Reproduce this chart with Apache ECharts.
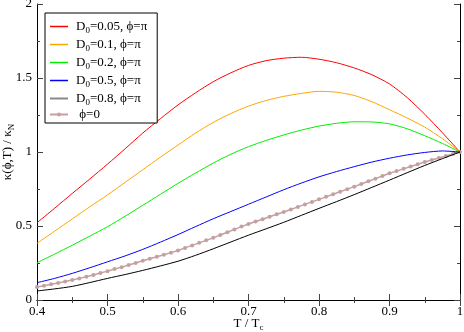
<!DOCTYPE html>
<html><head><meta charset="utf-8">
<script src="https://cdn.jsdelivr.net/npm/echarts@6/dist/echarts.min.js"></script>
<style>html,body{margin:0;padding:0;background:#fff}#c{width:464px;height:332px}</style>
</head><body><div id="c"></div>
<script>
var T = [0.400,0.425,0.450,0.475,0.500,0.525,0.550,0.575,0.600,0.625,0.650,0.675,0.700,0.725,0.750,0.775,0.800,0.825,0.850,0.875,0.900,0.925,0.950,0.975,1.000];
var red    = [0.522,0.620,0.720,0.818,0.918,1.022,1.128,1.225,1.318,1.400,1.475,1.535,1.585,1.617,1.634,1.640,1.627,1.603,1.568,1.522,1.460,1.368,1.255,1.130,1.000];
var orange = [0.383,0.465,0.548,0.630,0.710,0.795,0.880,0.965,1.047,1.128,1.200,1.260,1.310,1.348,1.376,1.396,1.410,1.404,1.382,1.340,1.286,1.230,1.168,1.090,1.000];
var green  = [0.252,0.310,0.370,0.432,0.495,0.566,0.640,0.714,0.788,0.858,0.925,0.985,1.036,1.078,1.115,1.148,1.175,1.194,1.204,1.203,1.190,1.157,1.110,1.058,1.000];
var blue   = [0.117,0.146,0.180,0.218,0.258,0.298,0.342,0.391,0.442,0.496,0.549,0.598,0.647,0.696,0.745,0.790,0.832,0.868,0.901,0.932,0.958,0.980,0.997,1.007,1.000];
var black  = [0.061,0.075,0.092,0.118,0.146,0.172,0.200,0.230,0.262,0.302,0.346,0.392,0.438,0.481,0.525,0.572,0.619,0.665,0.712,0.761,0.810,0.860,0.909,0.955,1.000];
var Tphi0 = [0.40,0.41,0.42,0.43,0.44,0.45,0.46,0.47,0.48,0.49,0.50,0.51,0.52,0.53,0.54,0.55,0.56,0.57,0.58,0.59,0.60,0.61,0.62,0.63,0.64,0.65,0.66,0.67,0.68,0.69,0.70,0.71,0.72,0.73,0.74,0.75,0.76,0.77,0.78,0.79,0.80,0.81,0.82,0.83,0.84,0.85,0.86,0.87,0.88,0.89,0.90,0.91,0.92,0.93,0.94,0.95,0.96,0.97,0.98,0.99,1.00];
var phi0 = [0.088,0.097,0.106,0.115,0.125,0.135,0.146,0.157,0.169,0.182,0.195,0.209,0.222,0.236,0.250,0.265,0.279,0.292,0.306,0.320,0.335,0.352,0.369,0.386,0.403,0.420,0.439,0.458,0.477,0.496,0.514,0.530,0.546,0.562,0.579,0.595,0.612,0.629,0.646,0.663,0.680,0.697,0.714,0.731,0.749,0.766,0.784,0.802,0.820,0.838,0.856,0.871,0.886,0.902,0.917,0.932,0.946,0.960,0.973,0.987,1.000];
var names = ['D0=0.05, ϕ=π','D0=0.1, ϕ=π','D0=0.2, ϕ=π','D0=0.5, ϕ=π','D0=0.8, ϕ=π','ϕ=0'];
var xTicks = ['0.4','0.5','0.6','0.7','0.8','0.9','1'];
var yTicks = ['0','0.5','1','1.5','2'];

function pairs(xs, ys){ return xs.map(function(x,i){ return [x, ys[i]]; }); }
var FONT = '"Liberation Serif", "Times New Roman", Times, serif';
var chart = echarts.init(document.getElementById('c'), null, {renderer:'canvas'});
function tickFmt(list, min, step){ return function(v){ var i = Math.round((v-min)/step); return list[i] !== undefined ? list[i] : ''; }; }
var axisCommon = function(){ return {
  axisLine:{show:true, lineStyle:{color:'#000', width:1}},
  axisTick:{show:true, inside:true, length:6, lineStyle:{color:'#444', width:1}},
  minorTick:{show:true, splitNumber:2, length:3, lineStyle:{color:'#444', width:1}},
  splitLine:{show:false}
};};
var lineSeries = function(name, data, color){ return {
  name:name, type:'line', data:data, smooth:0.25, symbol:'none', showSymbol:false,
  lineStyle:{color:color, width:1}, itemStyle:{color:color}, animation:false
};};
var subRich = {a:{fontFamily:FONT, fontSize:13, color:'#000', lineHeight:16},
               s:{fontFamily:FONT, fontSize:9, color:'#000', lineHeight:16, padding:[8,0,0,0]}};
var option = {
  animation:false,
  textStyle:{fontFamily:FONT},
  grid:{left:37, right:4, top:4, bottom:32, containLabel:false, outerBoundsMode:'none'},
  legend:{
    orient:'vertical', left:45, top:13, padding:[5,10,2,4], itemGap:1,
    itemWidth:18, itemHeight:5, borderColor:'#000', borderWidth:1,
    backgroundColor:'#fff',
    data: names.map(function(n,i){
      var d = {name:n};
      if(i<5){ d.itemStyle={opacity:0}; d.lineStyle={width:1.5}; }
      if(i===4){ d.lineStyle={color:'#888', width:2}; }
      return d; }),
    formatter:function(n){ if(n.indexOf('D0')===0){ return '{a|D}{s|0}{a|' + n.slice(2) + '}'; } return '{a| ' + n + '}'; },
    textStyle:{fontFamily:FONT, fontSize:13, color:'#000', padding:[0,0,0,3], rich:subRich}
  },
  xAxis:[
    Object.assign({type:'value', min:0.4, max:1, interval:0.1, position:'bottom',
      name:'{a|T / T}{s|c}', nameLocation:'middle', nameGap:16, nameMoveOverlap:false,
      nameTextStyle:{fontFamily:FONT, fontSize:13, color:'#000', rich:subRich},
      axisLabel:{show:true, fontFamily:FONT, fontSize:13, color:'#000', margin:5, formatter:tickFmt(xTicks,0.4,0.1)}}, axisCommon()),
    Object.assign({type:'value', min:0.4, max:1, interval:0.1, position:'top',
      axisLabel:{show:false}}, axisCommon())
  ],
  yAxis:[
    Object.assign({type:'value', min:0, max:2, interval:0.5, position:'left',
      name:'{a|κ(ϕ,T) / κ}{s|N}', nameLocation:'middle', nameGap:21, nameRotate:90, nameMoveOverlap:false,
      nameTextStyle:{fontFamily:FONT, fontSize:13, color:'#000', rich:subRich},
      axisLabel:{show:true, fontFamily:FONT, fontSize:13, color:'#000', margin:5, formatter:tickFmt(yTicks,0,0.5)}}, axisCommon()),
    Object.assign({type:'value', min:0, max:2, interval:0.5, position:'right',
      axisLabel:{show:false}}, axisCommon())
  ],
  series:[
    lineSeries(names[0], pairs(T, red), '#ff0000'),
    lineSeries(names[1], pairs(T, orange), '#ffa500'),
    lineSeries(names[2], pairs(T, green), '#00ee00'),
    lineSeries(names[3], pairs(T, blue), '#0000ff'),
    lineSeries(names[4], pairs(T, black), '#000000'),
    {name:names[5], type:'line', data:pairs(Tphi0, phi0), smooth:false, symbol:'circle', symbolSize:4, showSymbol:true,
     lineStyle:{color:'#c4a0a0', width:1.5}, itemStyle:{color:'#c4a0a0'}, animation:false, z:1}
  ]
};
chart.setOption(option);
</script></body></html>
